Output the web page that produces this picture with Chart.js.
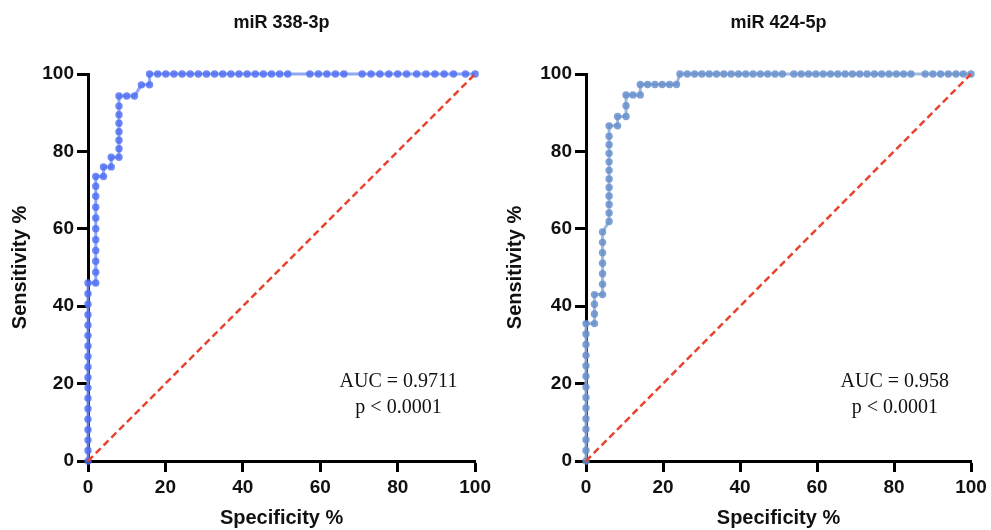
<!DOCTYPE html>
<html lang="en">
<head>
    <meta charset="UTF-8">
    <title>ROC curves - miR 338-3p / miR 424-5p</title>
    <script src="https://cdn.jsdelivr.net/npm/chart.js"></script>
    <style>
        body {
            margin: 0;
            background: #fff;
            width: 991px;
            height: 530px;
            overflow: hidden;
            position: relative;
        }
        .panel {
            position: absolute;
            top: 0;
            height: 530px;
        }
        #leftPanel { left: 0; width: 495px; }
        #rightPanel { left: 495px; width: 496px; }
    </style>
</head>
<body>
    <div class="panel" id="leftPanel"><canvas id="roc338"></canvas></div>
    <div class="panel" id="rightPanel"><canvas id="roc424"></canvas></div>

    <script>
        // axis ticks (both panels)
        const tickValues = [0, 20, 40, 60, 80, 100];

        // miR 338-3p ROC points (x = Specificity %, y = Sensitivity %)
        const miR338Spec = [
            0, 0, 0, 0, 0, 0, 0, 0, 0, 0, 0, 0, 0, 0, 0, 0, 0, 0,
            2, 2, 2, 2, 2, 2, 2, 2, 2, 2, 2,
            4, 4, 6, 6, 8,
            8, 8, 8, 8, 8, 8, 8,
            10, 12, 13.8, 15.9,
            15.9, 18.0, 20.1, 22.2, 24.3, 26.4, 28.5, 30.6, 32.7, 34.8, 36.9, 39.0, 41.1, 43.2, 45.3, 47.4, 49.5, 51.6,
            57.3, 59.5, 61.7, 63.9, 66.1,
            70.8, 73.1, 75.4, 77.7, 80.0, 82.3,
            84.9, 87.3, 89.6, 92.0, 94.4,
            97.5, 100
        ];
        const miR338Sens = [
            0, 2.7, 5.4, 8.1, 10.8, 13.5, 16.2, 18.9, 21.6, 24.3, 27.0, 29.7, 32.4, 35.1, 37.8, 40.5, 43.2, 46.0,
            46.0, 48.8, 51.6, 54.4, 57.2, 60.0, 62.8, 65.6, 68.4, 71.0, 73.5,
            73.5, 76.0, 76.0, 78.5, 78.5,
            80.7, 82.9, 85.1, 87.3, 89.5, 91.7, 94.3,
            94.3, 94.3, 97.2, 97.2,
            100, 100, 100, 100, 100, 100, 100, 100, 100, 100, 100, 100, 100, 100, 100, 100, 100, 100,
            100, 100, 100, 100, 100,
            100, 100, 100, 100, 100, 100,
            100, 100, 100, 100, 100,
            100, 100
        ];

        // miR 424-5p ROC points
        const miR424Spec = [
            0, 0, 0, 0, 0, 0, 0, 0, 0, 0, 0, 0, 0, 0,
            2.2, 2.2, 2.2, 2.2,
            4.3, 4.3, 4.3, 4.3, 4.3, 4.3, 4.3,
            6.0, 6.0, 6.0, 6.0, 6.0, 6.0, 6.0, 6.0, 6.0, 6.0, 6.0, 6.0,
            8.2, 8.2, 10.4, 10.4, 10.4, 12.2, 14.1,
            14.1, 16.0, 17.9, 19.8, 21.7, 23.5,
            24.4, 26.3, 28.2, 30.1, 32.0, 33.9, 35.8, 37.7, 39.6, 41.5, 43.4, 45.3, 47.2, 49.1, 51.0,
            54.0, 55.9, 57.8, 59.7, 61.6, 63.5, 65.4, 67.3, 69.2, 71.1, 73.0, 74.9, 76.8, 78.7, 80.6, 82.5, 84.4,
            88.1, 90.1, 92.1, 94.1, 96.1, 98.0, 100
        ];
        const miR424Sens = [
            0, 2.7, 5.5, 8.2, 10.9, 13.7, 16.4, 19.1, 21.9, 24.6, 27.3, 30.1, 32.8, 35.5,
            35.5, 38.0, 40.5, 43.0,
            43.0, 45.7, 48.4, 51.1, 53.8, 56.5, 59.2,
            61.9, 64.1, 66.3, 68.5, 70.7, 72.9, 75.1, 77.3, 79.5, 81.7, 83.9, 86.6,
            86.6, 89.0, 89.0, 91.8, 94.6, 94.6, 94.6,
            97.3, 97.3, 97.3, 97.3, 97.3, 97.3,
            100, 100, 100, 100, 100, 100, 100, 100, 100, 100, 100, 100, 100, 100, 100,
            100, 100, 100, 100, 100, 100, 100, 100, 100, 100, 100, 100, 100, 100, 100, 100, 100,
            100, 100, 100, 100, 100, 100, 100
        ];

        // chance line
        const refSpec = [0, 100];
        const refSens = [0, 100];

        const toPoints = (xs, ys) => xs.map((x, i) => ({ x: x, y: ys[i] }));

        // AUC / p-value text, drawn inside the plot area
        const aucLabel = {
            id: 'aucLabel',
            afterDatasetsDraw(chart, args, opts) {
                const { ctx, scales } = chart;
                const px = scales.x.getPixelForValue(80.2);
                const py = scales.y.getPixelForValue(20.5);
                ctx.save();
                ctx.fillStyle = '#111';
                ctx.font = '20px "Liberation Serif", "Times New Roman", serif';
                ctx.textAlign = 'center';
                ctx.textBaseline = 'middle';
                ctx.fillText(opts.lines[0], px, py);
                ctx.fillText(opts.lines[1], px, py + 26);
                ctx.restore();
            }
        };

        const makeRoc = (id, title, spec, sens, dotColor, lineColor, lines, yWidth, padRight) => {
            const axisFont = { family: '"Liberation Sans", Arial, sans-serif', size: 19, weight: 'bold' };
            const titleFont = { family: '"Liberation Sans", Arial, sans-serif', size: 20, weight: 'bold' };
            const common = {
                min: 0,
                max: 100,
                afterBuildTicks: (scale) => { scale.ticks = tickValues.map(v => ({ value: v })); },
                grid: {
                    drawOnChartArea: false,
                    drawTicks: true,
                    tickLength: 11,
                    tickWidth: 3,
                    tickColor: '#000'
                },
                border: { display: true, color: '#000', width: 3 }
            };
            new Chart(document.getElementById(id), {
                type: 'scatter',
                data: {
                    datasets: [{
                        data: toPoints(refSpec, refSens),
                        showLine: true,
                        borderColor: '#e8432e',
                        borderWidth: 2.5,
                        borderDash: [7, 4],
                        pointRadius: 0,
                        clip: false,
                        order: 0
                    }, {
                        data: toPoints(spec, sens),
                        showLine: true,
                        borderColor: lineColor,
                        borderWidth: 3,
                        pointRadius: 3.7,
                        pointBorderWidth: 0,
                        pointBackgroundColor: dotColor,
                        clip: false,
                        order: 1
                    }]
                },
                options: {
                    responsive: true,
                    maintainAspectRatio: false,
                    animation: false,
                    layout: { padding: { left: 0, right: padRight, top: 0, bottom: 0 } },
                    plugins: {
                        legend: { display: false },
                        tooltip: { enabled: false },
                        title: {
                            display: true,
                            text: title,
                            fullSize: false,
                            color: '#111',
                            font: { family: '"Liberation Sans", Arial, sans-serif', size: 18, weight: 'bold' },
                            padding: { top: 12, bottom: 40.4 }
                        },
                        aucLabel: { lines: lines }
                    },
                    scales: {
                        x: {
                            ...common,
                            afterFit: (scale) => { scale.height = 69; },
                            ticks: { color: '#111', font: axisFont, padding: 4, maxRotation: 0 },
                            title: { display: true, text: 'Specificity %', color: '#111', font: titleFont, padding: { top: 0, bottom: 0 } }
                        },
                        y: {
                            ...common,
                            afterFit: (scale) => { scale.width = yWidth; },
                            ticks: { color: '#111', font: axisFont, padding: 3 },
                            title: { display: true, text: 'Sensitivity %', color: '#111', font: titleFont, padding: { top: 8, bottom: 0 } }
                        }
                    }
                },
                plugins: [aucLabel]
            });
        };

        makeRoc('roc338', 'miR 338-3p', miR338Spec, miR338Sens,
            'rgba(78, 110, 242, 0.82)', 'rgba(125, 152, 245, 0.85)',
            ['AUC = 0.9711', 'p < 0.0001'], 88, 17);
        makeRoc('roc424', 'miR 424-5p', miR424Spec, miR424Sens,
            'rgba(104, 144, 204, 0.85)', 'rgba(150, 178, 220, 0.9)',
            ['AUC = 0.958', 'p < 0.0001'], 91, 20);
    </script>
</body>
</html>
